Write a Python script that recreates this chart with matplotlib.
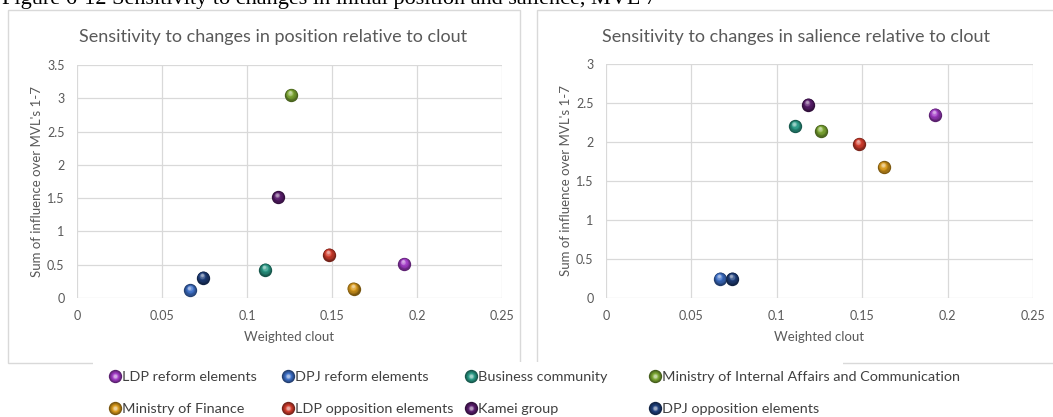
import numpy as np
import matplotlib
matplotlib.use("Agg")
import matplotlib.pyplot as plt
import matplotlib.colors as mcolors
from matplotlib.lines import Line2D
from matplotlib.legend_handler import HandlerTuple
from matplotlib.patches import Rectangle
from matplotlib.transforms import offset_copy

# groups, in legend order (row by row)
groups = [
    "LDP reform elements",
    "DPJ reform elements",
    "Business community",
    "Ministry of Internal Affairs and Communication",
    "Ministry of Finance",
    "LDP opposition elements",
    "Kamei group",
    "DPJ opposition elements",
]
colors = ["#a23bc6", "#3d6fc6", "#2a9a86", "#7ca733",
          "#d99a1c", "#d23d2d", "#5a1d6d", "#1f3f7b"]

weighted_clout = [0.1925, 0.0667, 0.1108, 0.1259, 0.1627, 0.1482, 0.1183, 0.0740]
position_influence = [0.51, 0.115, 0.425, 3.05, 0.14, 0.65, 1.51, 0.305]
salience_influence = [2.35, 0.25, 2.20, 2.14, 1.675, 1.975, 2.48, 0.25]

caption = "Figure 6-12 Sensitivity to changes in initial position and salience, MVL 7"
titles = ["Sensitivity to changes in position relative to clout",
          "Sensitivity to changes in salience relative to clout"]
ylims = [3.5, 3.0]

plt.rcParams["font.family"] = ["Lato", "DejaVu Sans"]
TXT = "#595959"
GRID = "#d9d9d9"


def shade(color, f):
    c = np.array(mcolors.to_rgb(color))
    if f < 0:
        return c * (1 + f)
    return c + (1 - c) * f


def ramp(t):
    if t < 0.6:
        return -0.45 * (1 - t / 0.6)
    return 0.55 * (t - 0.6) / 0.4


def sphere(ax, x, y, color, size=9.6, z=3):
    for t in np.linspace(0, 1, 9):
        d = size * (1 - 0.8 * t)
        off = size * 0.2 * t
        tr = offset_copy(ax.transData, fig=ax.figure, x=-0.4 * off, y=off, units="points")
        ax.scatter(x, y, s=d ** 2, color=shade(color, ramp(t)), transform=tr,
                   linewidths=0, zorder=z + t, clip_on=False)


fig = plt.figure(figsize=(10.53, 4.17), dpi=100)
W, H = 1053, 417

# caption (cut off at the top in the reference)
fig.text(2 / W, 1 - 4 / H, caption, family="Liberation Serif", fontsize=16,
         va="baseline", ha="left", color="black")

# chart frames
fig.patches.append(Rectangle((8 / W, 1 - 363 / H), 512 / W, 353 / H, transform=fig.transFigure,
                             fill=False, edgecolor=GRID, lw=1))
fig.patches.append(Rectangle((537 / W, 1 - 363 / H), 530 / W, 353 / H, transform=fig.transFigure,
                             fill=False, edgecolor=GRID, lw=1))
# white legend box covering the frame edges
fig.patches.append(Rectangle((93 / W, 0), 750 / W, 55 / H, transform=fig.transFigure,
                             facecolor="white", edgecolor="none", zorder=2))

axes_pos = [[77 / W, 1 - 298 / H, 425 / W, 233 / H],
            [606 / W, 1 - 298 / H, 427 / W, 234 / H]]
yvals = [position_influence, salience_influence]
title_x = [273 / W, 796 / W]

for i in range(2):
    ax = fig.add_axes(axes_pos[i])
    ax.set_xlim(0, 0.25)
    ax.set_ylim(0, ylims[i])
    ax.set_xticks(np.arange(0, 0.2501, 0.05))
    ax.set_yticks(np.arange(0, ylims[i] + 0.01, 0.5))
    ax.xaxis.set_major_formatter(lambda v, p: "%g" % round(v, 2))
    ax.yaxis.set_major_formatter(lambda v, p: "%g" % round(v, 1))
    ax.grid(True, color=GRID, lw=0.9)
    ax.set_axisbelow(True)
    for sp in ax.spines.values():
        sp.set_visible(False)
    ax.tick_params(length=0, labelsize=9, labelcolor=TXT)
    ax.tick_params(axis="y", pad=9)
    ax.tick_params(axis="x", pad=9)
    ax.set_xlabel("Weighted clout", fontsize=9.5, color=TXT)
    ax.set_ylabel("Sum of influence over MVL's 1-7", fontsize=9.5, color=TXT)
    ax.xaxis.set_label_coords(0.5, -0.14)
    ax.yaxis.set_label_coords(-0.08, 0.5)
    fig.text(title_x[i], 1 - 37 / H, titles[i], ha="center", va="center",
             fontsize=13, color=TXT)
    for x, y, c in zip(weighted_clout, yvals[i], colors):
        sphere(ax, x, y, c)

# legend: four columns placed like the reference
handles = []
for c in colors:
    layers = []
    for t in np.linspace(0, 1, 6):
        layers.append(Line2D([], [], ls="none", marker="o", markersize=9.6 * (1 - 0.75 * t),
                             markerfacecolor=shade(c, ramp(t)), markeredgewidth=0))
    handles.append(tuple(layers))

marker_x = [115, 288, 471, 655]
for j in range(4):
    idx = [j, j + 4]
    fig.legend([handles[k] for k in idx], [groups[k] for k in idx],
               handler_map={tuple: HandlerTuple(ndivide=1)},
               loc="upper left", bbox_to_anchor=((marker_x[j] - 6.1) / W, 1 - 370.5 / H),
               frameon=False, borderpad=0, borderaxespad=0, handlelength=0.85,
               handletextpad=0.05, labelspacing=1.4, fontsize=10.4,
               labelcolor="#404040")

fig.savefig("out.png", dpi=100, facecolor="white")
